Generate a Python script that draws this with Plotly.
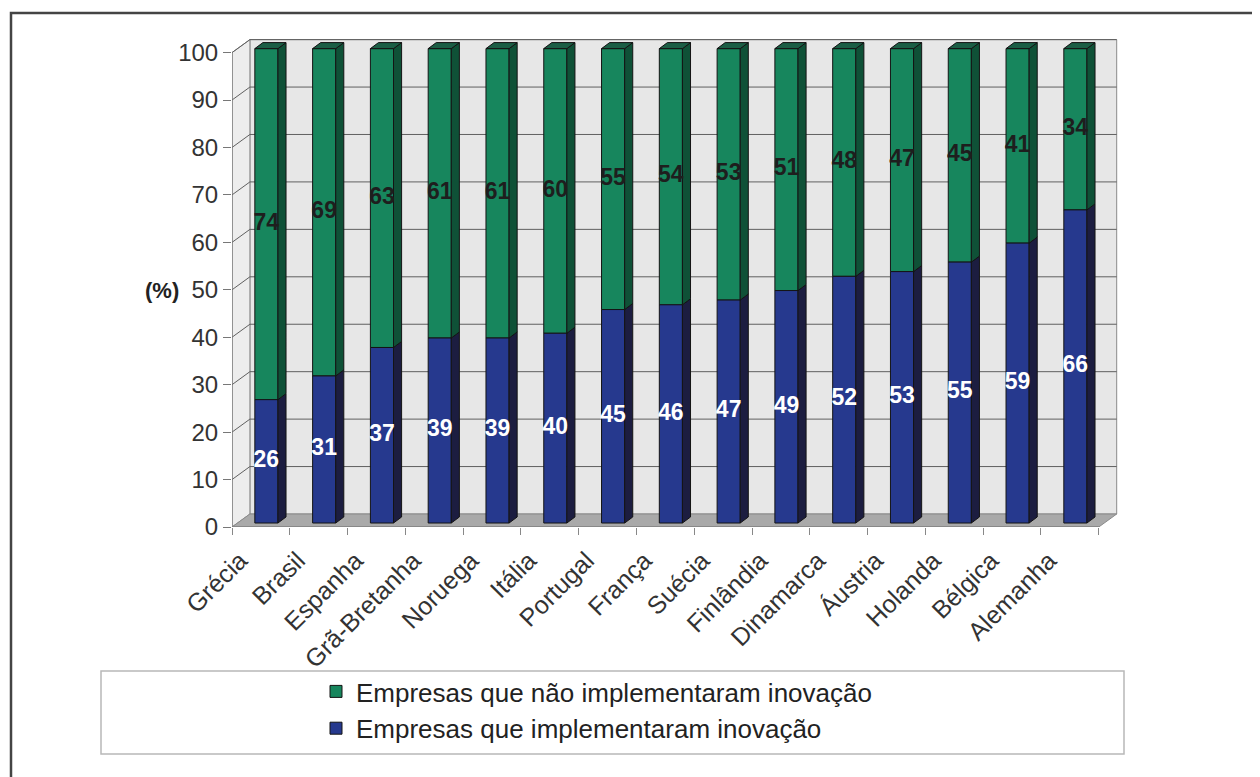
import plotly.graph_objects as go

# ---------------- data ----------------
categories = ["Grécia", "Brasil", "Espanha", "Grã-Bretanha", "Noruega", "Itália",
              "Portugal", "França", "Suécia", "Finlândia", "Dinamarca", "Áustria",
              "Holanda", "Bélgica", "Alemanha"]
implementaram = [26, 31, 37, 39, 39, 40, 45, 46, 47, 49, 52, 53, 55, 59, 66]
nao_implementaram = [74, 69, 63, 61, 61, 60, 55, 54, 53, 51, 48, 47, 45, 41, 34]
y_ticks = [0, 10, 20, 30, 40, 50, 60, 70, 80, 90, 100]

name_nao = "Empresas que não implementaram inovação"
name_sim = "Empresas que implementaram inovação"

# ---------------- styling / geometry constants ----------------
FONT = "Liberation Sans, Arial, sans-serif"
C_BLUE, C_BLUE_SIDE = "#26398e", "#1c1d40"
C_GREEN, C_GREEN_SIDE, C_GREEN_TOP = "#17865d", "#0f5137", "#1b5e45"
EDGE = "#141414"

BAR_SHIFT = 0.095      # bar front face shift (category units)
BAR_W = 0.40           # bar front face width
BAR_BASE = 0.84        # bar front face vertical shift (value units)
DEP_X, DEP_Y = 0.14, 1.27   # bar depth
WALL_X, WALL_Y = 0.31, 2.74  # wall depth

n = len(categories)
x_lo, x_hi = -0.5, n - 0.5
XR = [-0.5, 14.85]
YR = [0, 103.5]

OFF = 8  # page body margin
W, H = 1260 - OFF, 777 - OFF
ML, MR, MT, MB = 232 - OFF, 1260 - 1119, 36 - OFF, 777 - 527
PW, PH = W - ML - MR, H - MT - MB


def px2paper(px, py):
    """screen pixel (reference image coordinates) -> paper coordinates"""
    fx, fy = px - OFF, py - OFF
    return (fx - ML) / PW, (H - MB - fy) / PH


fig = go.Figure()

# ---------------- walls, floor and gridlines (shapes below traces) ----------------
shapes = []
shapes.append(dict(type="path", layer="below", xref="x", yref="y",
                   path=f"M{x_lo+WALL_X},{WALL_Y} L{x_hi+WALL_X},{WALL_Y} L{x_hi+WALL_X},{100+WALL_Y} "
                        f"L{x_lo+WALL_X},{100+WALL_Y} Z",
                   fillcolor="#e7e7e7", line=dict(color="#8a8a8a", width=1)))
shapes.append(dict(type="path", layer="below", xref="x", yref="y",
                   path=f"M{x_lo},0 L{x_lo+WALL_X},{WALL_Y} L{x_lo+WALL_X},{100+WALL_Y} L{x_lo},100 Z",
                   fillcolor="#ededed", line=dict(color="#8a8a8a", width=1)))
shapes.append(dict(type="path", layer="below", xref="x", yref="y",
                   path=f"M{x_lo},0 L{x_hi},0 L{x_hi+WALL_X},{WALL_Y} L{x_lo+WALL_X},{WALL_Y} Z",
                   fillcolor="#a9a9a9", line=dict(color="#8a8a8a", width=1)))
for v in y_ticks[1:]:
    shapes.append(dict(type="line", layer="below", xref="x", yref="y",
                       x0=x_lo + WALL_X, x1=x_hi + WALL_X, y0=v + WALL_Y, y1=v + WALL_Y,
                       line=dict(color="#606060", width=1)))
    shapes.append(dict(type="line", layer="below", xref="x", yref="y",
                       x0=x_lo, x1=x_lo + WALL_X, y0=v, y1=v + WALL_Y,
                       line=dict(color="#606060", width=1)))
shapes.append(dict(type="line", layer="below", xref="x", yref="y",
                   x0=x_lo, x1=x_hi, y0=0, y1=0, line=dict(color="#777777", width=1.2)))
shapes.append(dict(type="line", layer="below", xref="x", yref="y",
                   x0=x_lo, x1=x_lo, y0=0, y1=100, line=dict(color="#777777", width=1.2)))

# outer frame
fx0, fy0 = px2paper(11, 13)
fx1, fy1 = px2paper(1275, 790)
shapes.append(dict(type="rect", xref="paper", yref="paper", x0=fx0, y0=fy1, x1=fx1, y1=fy0,
                   line=dict(color="#444444", width=2.5), layer="below"))
# legend box
lx0, ly0 = px2paper(101, 671)
lx1, ly1 = px2paper(1124, 754)
shapes.append(dict(type="rect", xref="paper", yref="paper", x0=lx0, y0=ly1, x1=lx1, y1=ly0,
                   line=dict(color="#b8b8b8", width=1.5), layer="below"))

# ---------------- bars: front faces ----------------
xs = [i + BAR_SHIFT for i in range(n)]
base_blue = [BAR_BASE] * n
base_green = [BAR_BASE + v for v in implementaram]

fig.add_trace(go.Bar(x=xs, y=nao_implementaram, base=base_green, width=BAR_W,
                     name=name_nao, legendgroup="g1",
                     marker=dict(color=C_GREEN, line=dict(color=EDGE, width=1)),
                     hoverinfo="skip"))
fig.add_trace(go.Bar(x=xs, y=implementaram, base=base_blue, width=BAR_W,
                     name=name_sim, legendgroup="g2",
                     marker=dict(color=C_BLUE, line=dict(color=EDGE, width=1)),
                     hoverinfo="skip"))


# ---------------- bars: side and top faces ----------------
def side_polys(bases, heights):
    px_, py_ = [], []
    for x, b, h in zip(xs, bases, heights):
        xr = x + BAR_W / 2
        px_ += [xr, xr + DEP_X, xr + DEP_X, xr, xr, None]
        py_ += [b, b + DEP_Y, b + h + DEP_Y, b + h, b, None]
    return px_, py_


sx, sy = side_polys(base_blue, implementaram)
fig.add_trace(go.Scatter(x=sx, y=sy, mode="lines", fill="toself", fillcolor=C_BLUE_SIDE,
                         line=dict(color=EDGE, width=1), showlegend=False, hoverinfo="skip"))
sx, sy = side_polys(base_green, nao_implementaram)
fig.add_trace(go.Scatter(x=sx, y=sy, mode="lines", fill="toself", fillcolor=C_GREEN_SIDE,
                         line=dict(color=EDGE, width=1), showlegend=False, hoverinfo="skip"))

tx, ty = [], []
for x, b, h in zip(xs, base_green, nao_implementaram):
    xl, xr, top = x - BAR_W / 2, x + BAR_W / 2, b + h
    tx += [xl, xl + DEP_X, xr + DEP_X, xr, xl, None]
    ty += [top, top + DEP_Y, top + DEP_Y, top, top, None]
fig.add_trace(go.Scatter(x=tx, y=ty, mode="lines", fill="toself", fillcolor=C_GREEN_TOP,
                         line=dict(color=EDGE, width=1), showlegend=False, hoverinfo="skip"))

# ---------------- value labels ----------------
fig.add_trace(go.Scatter(x=xs, y=[b + v / 2 for b, v in zip(base_blue, implementaram)],
                         mode="text", text=[str(v) for v in implementaram],
                         textfont=dict(family=FONT, size=23, color="white", weight="bold"),
                         showlegend=False, hoverinfo="skip"))
fig.add_trace(go.Scatter(x=xs, y=[b + v / 2 for b, v in zip(base_green, nao_implementaram)],
                         mode="text", text=[str(v) for v in nao_implementaram],
                         textfont=dict(family=FONT, size=23, color="#1e1e1e", weight="bold"),
                         showlegend=False, hoverinfo="skip"))

# ---------------- layout ----------------
ax_px, ay_px = px2paper(143, 290)
lgx, lgy = px2paper(316, 668)

fig.update_layout(
    width=W, height=H,
    margin=dict(l=ML, r=MR, t=MT, b=MB),
    paper_bgcolor="white", plot_bgcolor="white",
    barmode="overlay",
    font=dict(family=FONT, color="#333333"),
    shapes=shapes,
    showlegend=True,
    legend=dict(x=lgx, y=lgy, xanchor="left", yanchor="top",
                font=dict(family=FONT, size=26, color="#222222"),
                bgcolor="rgba(0,0,0,0)", traceorder="normal", tracegroupgap=6),
    annotations=[dict(text="<b>(%)</b>", xref="paper", yref="paper", x=ax_px, y=ay_px,
                      showarrow=False, font=dict(family=FONT, size=22, color="#222222"))],
    xaxis=dict(range=XR, showgrid=False, zeroline=False, showline=False,
               tickmode="array", tickvals=[i - 0.36 for i in range(n)], ticktext=categories,
               tickangle=-45, ticks="", ticklabelstandoff=13,
               tickfont=dict(family=FONT, size=25, color="#333333"),
               minor=dict(tickmode="array", tickvals=[i - 0.5 for i in range(n + 1)],
                          ticks="outside", ticklen=7, tickcolor="#888888", showgrid=False)),
    yaxis=dict(range=YR, showgrid=False, zeroline=False, showline=False,
               tickmode="array", tickvals=y_ticks, ticks="outside", ticklen=8,
               tickcolor="#777777", tickfont=dict(family=FONT, size=24, color="#333333")),
)

fig.write_html("out.html")
